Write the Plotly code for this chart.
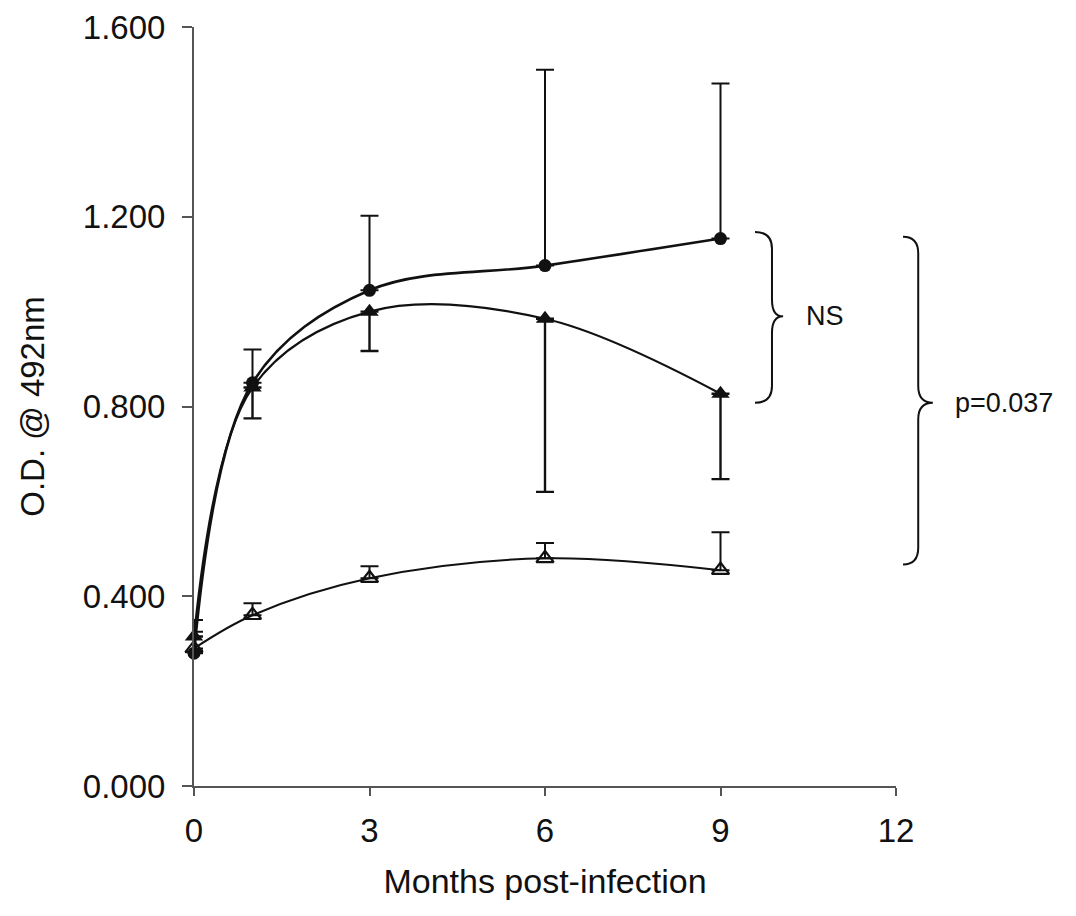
import plotly.graph_objects as go

# ---- data ----
months = [0, 1, 3, 6, 9]

circle_mean = [0.280, 0.850, 1.045, 1.097, 1.154]
circle_err_plus = [0.070, 0.070, 0.157, 0.413, 0.327]

tri_mean = [0.315, 0.840, 1.000, 0.985, 0.827]
tri_err_minus = [0.030, 0.065, 0.083, 0.365, 0.180]

open_mean = [0.290, 0.360, 0.438, 0.480, 0.455]
open_err_plus = [0.035, 0.025, 0.025, 0.032, 0.080]

x_ticks = [0, 3, 6, 9, 12]
y_ticks = [0.0, 0.4, 0.8, 1.2, 1.6]

# brace annotations: (y top, y tip, y bottom) in data units, x (months) of ends/spine/tip
brace_ns = dict(y=(1.168, 0.990, 0.808), x=(9.59, 9.88, 10.07), label="NS")
brace_p = dict(y=(1.158, 0.808, 0.467), x=(12.12, 12.38, 12.63), label="p=0.037")

X_MAX = 12.0
Y_MAX = 1.6
FONT = "Liberation Sans, Arial, sans-serif"
INK = "#111111"

fig = go.Figure()

fig.add_trace(go.Scatter(
    x=months, y=circle_mean, mode="lines+markers",
    line=dict(color=INK, width=2.6, shape="spline", smoothing=1.0),
    marker=dict(symbol="circle", size=13, color=INK),
    error_y=dict(type="data", symmetric=False, array=circle_err_plus,
                 arrayminus=[0] * len(months), color=INK, thickness=2, width=9),
    cliponaxis=False, showlegend=False,
))

fig.add_trace(go.Scatter(
    x=months, y=tri_mean, mode="lines+markers",
    line=dict(color=INK, width=2.2, shape="spline", smoothing=1.0),
    marker=dict(symbol="triangle-up", size=16, color=INK),
    error_y=dict(type="data", symmetric=False, array=[0] * len(months),
                 arrayminus=tri_err_minus, color=INK, thickness=2.4, width=9),
    cliponaxis=False, showlegend=False,
))

fig.add_trace(go.Scatter(
    x=months, y=open_mean, mode="lines+markers",
    line=dict(color=INK, width=2, shape="spline", smoothing=1.0),
    marker=dict(symbol="triangle-up-open", size=15, color=INK, line=dict(width=2.2, color=INK)),
    error_y=dict(type="data", symmetric=False, array=open_err_plus,
                 arrayminus=[0] * len(months), color=INK, thickness=2, width=9),
    cliponaxis=False, showlegend=False,
))


def brace_path(b):
    x0, xm, xt = [v / X_MAX for v in b["x"]]
    yt, ymid, yb = [v / Y_MAX for v in b["y"]]
    r = 0.022
    return (f"M {x0},{yt} Q {xm},{yt} {xm},{yt - r} "
            f"L {xm},{ymid + r} Q {xm},{ymid} {xt},{ymid} "
            f"Q {xm},{ymid} {xm},{ymid - r} "
            f"L {xm},{yb + r} Q {xm},{yb} {x0},{yb}")


for b in (brace_ns, brace_p):
    fig.add_shape(type="path", xref="paper", yref="paper", path=brace_path(b),
                  line=dict(color=INK, width=2))
    fig.add_annotation(xref="paper", yref="paper",
                       x=(b["x"][2] + 0.35) / X_MAX, y=b["y"][1] / Y_MAX,
                       text=b["label"], showarrow=False, xanchor="left", yanchor="middle",
                       font=dict(family=FONT, size=27, color=INK))

fig.update_layout(
    width=1076, height=916,
    margin=dict(l=186, r=188, t=19, b=138, autoexpand=False),
    paper_bgcolor="white", plot_bgcolor="white",
    font=dict(family=FONT, color=INK),
    xaxis=dict(
        range=[0, X_MAX], tickvals=x_ticks, ticktext=[str(v) for v in x_ticks],
        showgrid=False, zeroline=False, showline=True, linecolor="#555555", linewidth=2,
        ticks="outside", ticklen=8, tickwidth=1.5, tickcolor="#555555", automargin=False,
        ticklabeloverflow="allow",
        tickfont=dict(size=33, family=FONT, color=INK), ticklabelstandoff=6,
        title=dict(text="Months post-infection", font=dict(size=34, family=FONT, color=INK),
                   standoff=22),
    ),
    yaxis=dict(
        range=[0, Y_MAX], tickvals=y_ticks, ticktext=[f"{v:.3f}" for v in y_ticks],
        showgrid=False, zeroline=False, showline=True, linecolor="#555555", linewidth=2,
        ticks="outside", ticklen=10, tickwidth=1.5, tickcolor="#555555", automargin=False,
        ticklabeloverflow="allow",
        tickfont=dict(size=33, family=FONT, color=INK), ticklabelstandoff=10,
        title=dict(text="O.D. @ 492nm", font=dict(size=33, family=FONT, color=INK),
                   standoff=28),
    ),
)

fig.write_html("out.html")
